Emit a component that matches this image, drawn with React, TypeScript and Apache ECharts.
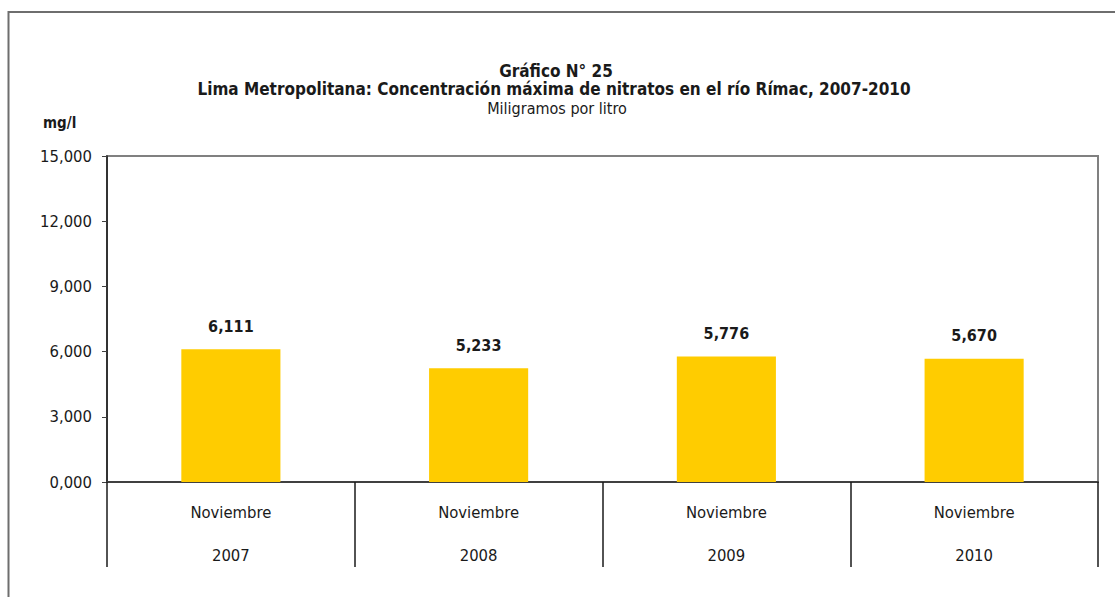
import React, { useEffect, useRef } from "react";
import * as echarts from "echarts";

const categories = ["Noviembre\n2007", "Noviembre\n2008", "Noviembre\n2009", "Noviembre\n2010"];
const values = [6111, 5233, 5776, 5670];
const titleLine1 = "Gráfico N° 25";
const titleLine2 = "Lima Metropolitana: Concentración máxima de nitratos en el río Rímac, 2007-2010";
const titleLine3 = "Miligramos por litro";
const unitLabel = "mg/l";

const FONT = "'Liberation Sans Narrow', 'Arial Narrow', 'DejaVu Sans Condensed', 'Liberation Sans', sans-serif";

function fmtY(v: number): string {
  return (v / 1000).toFixed(3).replace(".", ",");
}
function fmtLabel(v: number): string {
  const s = String(Math.round(v));
  return s.replace(/\B(?=(\d{3})+(?!\d))/g, ",");
}

export default function App() {
  const ref = useRef<HTMLDivElement>(null);
  useEffect(() => {
    document.body.style.margin = "0";
    const chart = echarts.init(ref.current!, null, { renderer: "svg" });
    chart.setOption({
      animation: false,
      backgroundColor: "#ffffff",
      textStyle: { fontFamily: FONT },
      grid: {
        left: 107,
        right: 17,
        top: 156,
        bottom: 115,
        show: true,
        borderColor: "#808080",
        borderWidth: 2,
        backgroundColor: "transparent",
      },
      xAxis: {
        type: "category",
        data: categories,
        axisLine: { show: true, lineStyle: { color: "#404040", width: 2 } },
        axisTick: {
          show: true,
          alignWithLabel: false,
          length: 85,
          lineStyle: { color: "#1a1a1a", width: 1.5 },
        },
        axisLabel: {
          margin: 9,
          fontFamily: FONT,
          fontSize: 16.5,
          color: "#1a1a1a",
          lineHeight: 43,
          interval: 0,
        },
      },
      yAxis: {
        type: "value",
        min: 0,
        max: 15000,
        interval: 3000,
        splitLine: { show: false },
        axisLine: { show: true, lineStyle: { color: "#1a1a1a", width: 1.5 } },
        axisTick: { show: true, length: 5, lineStyle: { color: "#404040" } },
        axisLabel: {
          formatter: (v: number) => fmtY(v),
          fontFamily: FONT,
          fontSize: 16.5,
          color: "#1a1a1a",
          margin: 15,
        },
      },
      series: [
        {
          type: "bar",
          data: values,
          barWidth: "40%",
          itemStyle: { color: "#FFCC00" },
          label: {
            show: true,
            position: "top",
            distance: 15,
            formatter: (p: any) => fmtLabel(p.value),
            fontFamily: FONT,
            fontSize: 16,
            fontWeight: "bold",
            color: "#1a1a1a",
          },
        },
      ],
      graphic: [
        {
          type: "rect",
          shape: { x: 8.5, y: 12, width: 1200, height: 700 },
          style: { fill: "none", stroke: "#6e6e6e", lineWidth: 2 },
          silent: true,
        },
        {
          type: "text",
          x: 556,
          y: 71,
          style: {
            text: titleLine1,
            fontFamily: FONT,
            fontSize: 17,
            fontWeight: "bold",
            fill: "#1a1a1a",
            textAlign: "center",
            textVerticalAlign: "middle",
          },
        },
        {
          type: "text",
          x: 554,
          y: 89,
          style: {
            text: titleLine2,
            fontFamily: FONT,
            fontSize: 17,
            fontWeight: "bold",
            fill: "#1a1a1a",
            textAlign: "center",
            textVerticalAlign: "middle",
          },
        },
        {
          type: "text",
          x: 557,
          y: 108,
          style: {
            text: titleLine3,
            fontFamily: FONT,
            fontSize: 16,
            fill: "#1a1a1a",
            textAlign: "center",
            textVerticalAlign: "middle",
          },
        },
        {
          type: "text",
          x: 43,
          y: 123,
          style: {
            text: unitLabel,
            fontFamily: FONT,
            fontSize: 15,
            fontWeight: "bold",
            fill: "#1a1a1a",
            textAlign: "left",
            textVerticalAlign: "middle",
          },
        },
      ],
    });
    return () => chart.dispose();
  }, []);
  return <div ref={ref} style={{ width: 1115, height: 597 }} />;
}
